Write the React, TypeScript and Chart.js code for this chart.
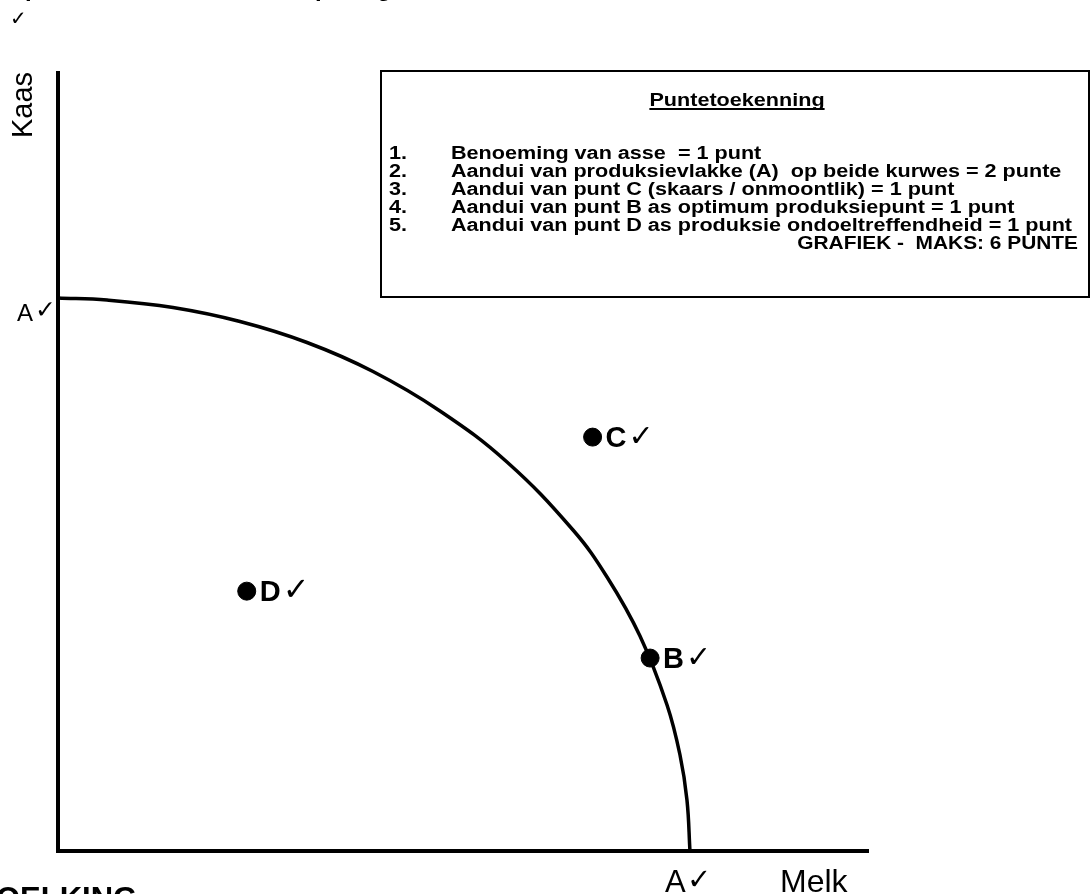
import React, { useEffect, useRef } from "react";
import { Chart, registerables } from "chart.js";

Chart.register(...registerables);

// Production possibility curve (Melk on x, Kaas on y)
const curveMelk = [0, 0.605, 1.42, 2.247, 3.074, 3.889, 4.716, 5.543, 6.358, 6.778, 7.185, 7.519, 7.679, 7.765, 7.802];
const curveKaas = [7.108, 7.082, 6.986, 6.806, 6.536, 6.163, 5.656, 5.0, 4.126, 3.522, 2.763, 1.877, 1.234, 0.656, 0];

// Marked points
const pointNames = ["C", "D", "B"];
const pointMelk = [6.6, 2.33, 7.31];
const pointKaas = [5.32, 3.34, 2.48];

// Axis names and intercept labels
const xAxisName = "Melk";
const yAxisName = "Kaas";
const interceptLabel = "A";
const CHECK = "\u2713";

// Marking box
const boxTitle = "Puntetoekenning";
const boxNums = ["1.", "2.", "3.", "4.", "5."];
const boxItems = [
  "Benoeming van asse  = 1 punt",
  "Aandui van produksievlakke (A)  op beide kurwes = 2 punte",
  "Aandui van punt C (skaars / onmoontlik) = 1 punt",
  "Aandui van punt B as optimum produksiepunt = 1 punt",
  "Aandui van punt D as produksie ondoeltreffendheid = 1 punt",
];
const boxTotal = "GRAFIEK -  MAKS: 6 PUNTE";
const bottomHeading = "OELKING";

const FONT = '"Liberation Sans", Arial, "DejaVu Sans", sans-serif';

function stretchedText(ctx: CanvasRenderingContext2D, text: string, x: number, y: number, sx: number, align: "left" | "right" | "center") {
  const w = ctx.measureText(text).width * sx;
  let left = x;
  if (align === "right") left = x - w;
  if (align === "center") left = x - w / 2;
  ctx.save();
  ctx.textAlign = "left";
  ctx.translate(left, y);
  ctx.scale(sx, 1);
  ctx.fillText(text, 0, 0);
  ctx.restore();
  return { left, width: w };
}

const annotations = {
  id: "annotations",
  afterDraw(chart: any) {
    const ctx = chart.ctx as CanvasRenderingContext2D;
    const xs = chart.scales.x;
    const ys = chart.scales.y;
    ctx.save();
    ctx.fillStyle = "#000";
    ctx.strokeStyle = "#000";
    ctx.textBaseline = "alphabetic";
    ctx.textAlign = "left";

    // cut-off text remnants at the very top
    ctx.font = `20px ${FONT}`;
    ctx.fillText(CHECK, 10, 25);
    ctx.font = `bold 24px ${FONT}`;
    ctx.fillText("p", 25, -4);
    ctx.fillText("p", 315, -4);
    ctx.fillText("g", 377, -4);

    // y axis name (rotated)
    ctx.save();
    ctx.translate(32, 105);
    ctx.rotate(-Math.PI / 2);
    ctx.textAlign = "center";
    ctx.font = `29px ${FONT}`;
    ctx.fillText(yAxisName, 0, 0);
    ctx.restore();

    // x axis name
    ctx.font = `32px ${FONT}`;
    ctx.fillText(xAxisName, 780, 892);

    // intercept labels
    const yA = ys.getPixelForValue(curveKaas[0]);
    ctx.font = `24px ${FONT}`;
    ctx.fillText(interceptLabel, 17, yA + 23);
    ctx.font = `25px ${FONT}`;
    ctx.fillText(CHECK, 35, yA + 20);

    const xA = xs.getPixelForValue(curveMelk[curveMelk.length - 1]);
    ctx.font = `31px ${FONT}`;
    ctx.fillText(interceptLabel, xA - 25, 892);
    ctx.font = `29px ${FONT}`;
    ctx.fillText(CHECK, xA - 3, 889);

    // point labels
    const meta = chart.getDatasetMeta(1);
    const checkSizes: Record<string, number> = { C: 30, D: 32, B: 30 };
    meta.data.forEach((el: any, i: number) => {
      const name = pointNames[i];
      ctx.font = `bold 29px ${FONT}`;
      const px = el.x + 13;
      const py = el.y + 10;
      ctx.fillText(name, px, py);
      const w = ctx.measureText(name).width;
      ctx.font = `${checkSizes[name]}px ${FONT}`;
      ctx.fillText(CHECK, px + w + 2, py - 1);
    });

    // marking box
    ctx.lineWidth = 2;
    ctx.strokeRect(381, 71, 708, 226);
    const SX = 1.2;
    ctx.font = `bold 18px ${FONT}`;
    const t = stretchedText(ctx, boxTitle, 737, 106, SX, "center");
    ctx.lineWidth = 1.8;
    ctx.beginPath();
    ctx.moveTo(t.left, 109);
    ctx.lineTo(t.left + t.width, 109);
    ctx.stroke();
    boxItems.forEach((item, i) => {
      const y = 159 + i * 18;
      stretchedText(ctx, boxNums[i], 389, y, SX, "left");
      stretchedText(ctx, item, 451, y, SX, "left");
    });
    stretchedText(ctx, boxTotal, 1078, 159 + 5 * 18, 1.16, "right");

    // cut-off heading at the bottom
    ctx.textAlign = "left";
    ctx.font = `bold 31px ${FONT}`;
    ctx.fillText(bottomHeading, -4, 909);

    ctx.restore();
  },
};

export default function App() {
  const ref = useRef<HTMLCanvasElement | null>(null);
  useEffect(() => {
    if (!ref.current) return;
    const chart = new Chart(ref.current, {
      type: "line",
      data: {
        datasets: [
          {
            label: "PPC",
            data: curveMelk.map((x, i) => ({ x, y: curveKaas[i] })),
            borderColor: "#000",
            borderWidth: 3.5,
            pointRadius: 0,
            fill: false,
            tension: 0.4,
          },
          {
            label: "Punte",
            type: "scatter",
            data: pointMelk.map((x, i) => ({ x, y: pointKaas[i] })),
            backgroundColor: "#000",
            borderColor: "#000",
            pointRadius: 9,
            showLine: false,
          },
        ],
      },
      options: {
        animation: false,
        responsive: false,
        maintainAspectRatio: false,
        layout: { padding: { left: 58, top: 73, right: 224, bottom: 43 } },
        plugins: { legend: { display: false }, tooltip: { enabled: false } },
        scales: {
          x: {
            type: "linear",
            min: 0,
            max: 10,
            ticks: { display: false },
            grid: { display: false, drawTicks: false },
            border: { display: true, color: "#000", width: 4 },
            afterFit: (s: any) => { s.height = 0; },
          },
          y: {
            type: "linear",
            min: 0,
            max: 10,
            ticks: { display: false },
            grid: { display: false, drawTicks: false },
            border: { display: true, color: "#000", width: 4 },
            afterFit: (s: any) => { s.width = 0; },
          },
        },
      },
      plugins: [annotations],
    });
    return () => chart.destroy();
  }, []);
  return (
    <div style={{ position: "fixed", left: 0, top: 0, width: 1092, height: 894, background: "#fff" }}>
      <canvas ref={ref} width={1092} height={894} style={{ width: 1092, height: 894 }} />
    </div>
  );
}
